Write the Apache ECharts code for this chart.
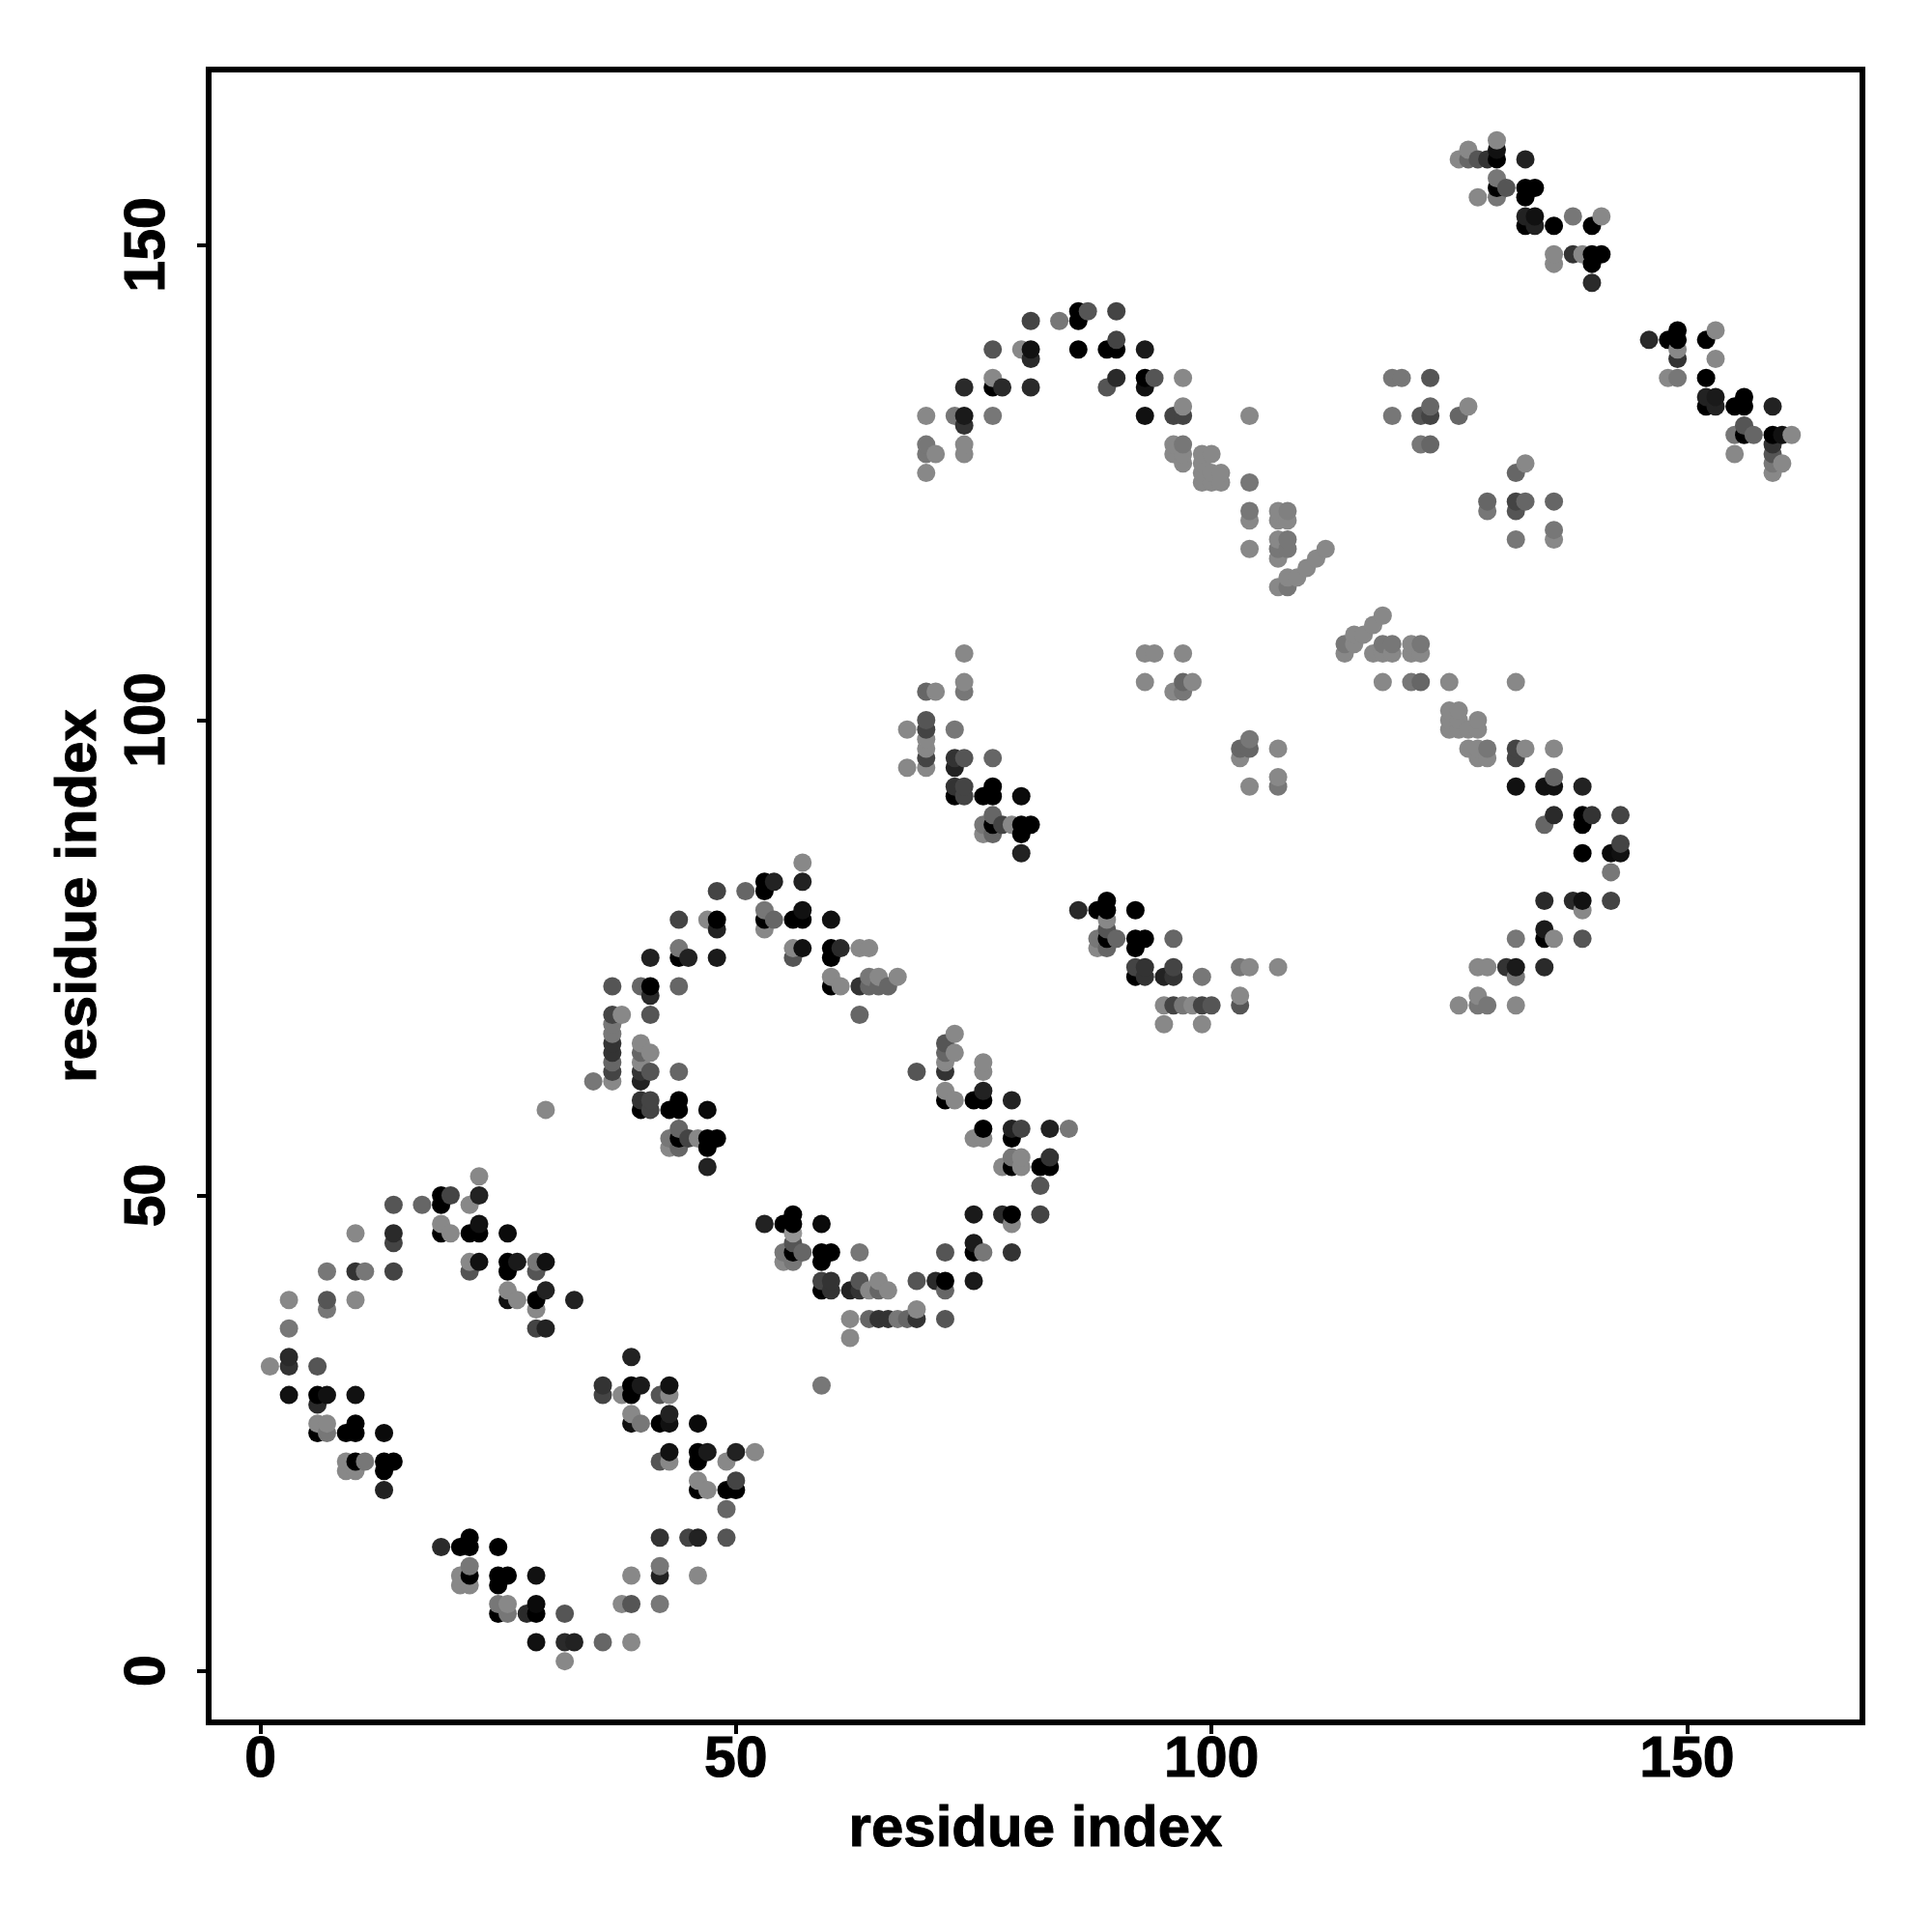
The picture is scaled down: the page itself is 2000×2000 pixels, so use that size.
<!DOCTYPE html>
<html>
<head>
<meta charset="utf-8">
<style>html,body{margin:0;padding:0;background:#fff}#c{width:2000px;height:2000px}</style>
<script src="https://cdn.jsdelivr.net/npm/echarts@6/dist/echarts.min.js"></script>
</head>
<body>
<div id="c"></div>
<script>
const tickValues = [0, 50, 100, 150];
const axisTitle = 'residue index';

// each contact: [residue i, residue j, grey level]
const repeat1Low = [
[1,32,136],[3,39,136],[3,36,119],[3,33,42],[3,32,51],[3,29,17],[6,32,85],[6,29,0],[6,28,42],[6,26,136],[6,25,0],
[7,42,119],[7,39,85],[7,38,119],[7,29,17],[7,26,136],[7,25,119],[9,25,0],[9,22,136],[9,21,136],
[10,46,136],[10,42,51],[10,39,136],[10,29,17],[10,26,0],[10,25,0],[10,22,0],[10,21,136],[11,42,119],[11,22,119],
[13,25,10],[13,22,0],[13,21,0],[13,19,34],[14,49,85],[14,46,42],[14,45,68],[14,42,68],[14,22,0],
[17,49,102],[19,50,0],[19,49,0],[19,47,136],[19,46,0],[19,13,42],[20,50,68],[20,46,136],
[21,13,0],[21,10,136],[21,9,136],[22,49,136],[22,46,0],[22,43,136],[22,42,85],[22,14,0],[22,13,0],[22,11,119],[22,10,0],[22,9,136],
[23,52,136],[23,50,34],[23,47,17],[23,46,0],[23,43,17]
];
const repeat1High = [
[25,13,0],[25,10,0],[25,9,0],[25,7,119],[25,6,0],[26,46,10],[26,43,0],[26,42,0],[26,40,136],[26,39,17],[26,10,0],[26,7,136],[26,6,119],
[27,43,26],[27,39,136],[28,6,42],[29,43,119],[29,42,85],[29,39,0],[29,38,136],[29,36,68],[29,10,17],[29,7,10],[29,6,0],[29,3,17],
[30,59,136],[30,43,17],[30,40,34],[30,36,34],[32,6,85],[32,3,42],[32,1,136],[33,3,34],[33,39,34],
[36,30,51],[36,29,68],[36,3,102],[38,29,136],[38,7,136],[39,33,34],[39,30,0],[39,29,0],[39,27,136],[39,26,17],[39,10,136],[39,7,85],[39,3,136],
[40,30,26],[40,26,119],[42,29,85],[42,26,0],[42,22,85],[42,14,51],[42,11,119],[42,10,34],[42,7,119],
[43,30,17],[43,29,136],[43,27,34],[43,26,17],[43,23,17],[43,22,136],[45,14,68],
[46,26,10],[46,23,0],[46,22,0],[46,20,136],[46,19,0],[46,14,34],[46,10,136],[47,23,26],[47,19,136],
[49,22,136],[49,19,0],[49,17,102],[49,14,85],[50,23,34],[50,20,68],[50,19,0],[52,23,136]
];
const repeat2Low = [
[35,62,119],[37,72,85],[37,69,68],[37,68,119],[37,67,119],[37,66,51],[37,65,51],[37,64,102],[37,63,68],[37,62,136],[38,69,136],
[40,72,102],[40,66,136],[40,65,102],[40,64,136],[40,63,51],[40,62,34],[40,60,51],[40,59,0],
[41,75,34],[41,72,0],[41,71,42],[41,69,85],[41,65,136],[41,63,85],[41,60,68],[41,59,68],
[43,59,0],[43,56,119],[43,55,136],[44,79,68],[44,76,119],[44,75,0],[44,72,102],[44,63,102],[44,60,0],[44,59,0],[44,57,102],[44,56,0],[44,55,102],
[45,75,34],[45,56,68],[46,56,136],[47,79,136],[47,59,10],[47,56,0],[47,55,0],[47,53,34],
[48,82,68],[48,79,0],[48,78,34],[48,75,26],[48,56,0],[51,82,102],
[53,83,0],[53,82,0],[53,80,119],[53,79,0],[53,78,136],[53,47,34],[54,83,34],[54,79,102]
];
const repeat2High = [
[55,47,0],[55,44,119],[55,43,136],[56,79,0],[56,76,136],[56,75,85],[56,48,0],[56,47,0],[56,46,150],[56,45,85],[56,44,0],[56,43,119],
[57,85,136],[57,83,34],[57,80,17],[57,79,0],[57,76,17],[57,44,102],[59,47,10],[59,44,0],[59,43,0],[59,41,68],[59,40,0],[59,30,119],
[60,79,17],[60,76,0],[60,75,0],[60,73,136],[60,72,0],[60,44,0],[60,41,51],[60,40,51],[61,76,42],[61,72,136],
[62,40,34],[62,37,136],[62,35,136],[63,76,136],[63,72,51],[63,69,102],[63,44,119],[63,41,85],[63,40,51],
[64,76,136],[64,73,119],[64,72,102],[64,40,136],[64,37,102],[65,73,136],[65,72,102],[65,41,136],[65,40,102],[65,37,51],
[66,72,102],[66,40,136],[66,37,51],[67,73,136],[67,37,119],[68,37,102],[69,63,85],[69,41,85],[69,38,136],[69,37,51],
[71,41,42],[72,66,85],[72,65,102],[72,64,136],[72,63,51],[72,61,136],[72,60,0],[72,44,85],[72,41,0],[72,40,102],[72,37,85],
[73,67,136],[73,65,136],[73,60,136],[75,60,0],[75,56,136],[75,48,26],[75,45,26],[75,44,0],[75,41,26],
[76,64,136],[76,63,136],[76,61,34],[76,60,0],[76,57,0],[76,56,136],[76,44,119],[78,53,136],[78,48,42],
[79,60,34],[79,57,34],[79,56,0],[79,54,119],[79,53,0],[79,48,0],[79,47,136],[79,44,51],[80,57,68],[80,54,136],[80,53,136],
[82,53,0],[82,51,85],[82,48,68],[83,57,34],[83,54,51],[83,53,0],[85,57,119]
];
const repeat3Low = [
[68,99,136],[68,95,136],[70,132,136],[70,129,119],[70,128,119],[70,126,136],[70,103,102],[70,100,85],[70,99,68],[70,98,136],[70,97,136],[70,96,68],[70,95,136],
[71,128,136],[71,103,136],[73,132,119],[73,99,119],[73,96,51],[73,95,34],[73,93,51],[73,92,0],
[74,135,42],[74,132,26],[74,131,51],[74,129,136],[74,128,136],[74,107,136],[74,104,136],[74,103,119],[74,96,85],[74,93,68],[74,92,68],
[76,92,0],[76,89,119],[76,88,136],[77,139,85],[77,136,136],[77,135,0],[77,132,119],[77,96,102],[77,93,0],[77,92,0],[77,90,102],[77,89,0],[77,88,102],
[78,135,42],[78,89,68],[79,89,136],[80,139,136],[80,92,10],[80,89,0],[80,88,0],[80,86,34],
[81,142,68],[81,139,17],[81,138,42],[81,135,42],[81,89,0],[84,142,119],
[86,143,0],[86,142,0],[86,139,0],[86,80,42],[87,143,85],
[88,80,0],[88,77,119],[88,76,136],[89,139,0],[89,135,85],[89,81,0],[89,80,0],[89,79,136],[89,78,85],[89,77,0],[89,76,102],
[90,143,68],[90,140,68],[90,139,0],[90,136,42],[90,77,102],[92,80,0],[92,77,0],[92,76,0],[92,74,68],[92,73,0],
[93,139,26],[93,136,0],[93,135,17],[93,132,17],[93,107,136],[93,104,136],[93,77,0],[93,74,51],[93,73,51],[94,136,85],[94,107,136],
[95,73,34],[95,70,136],[95,68,136],[96,132,68],[96,129,136],[96,128,136],[96,103,136],[96,77,102],[96,74,68],[96,73,51],[96,70,68],
[97,136,136],[97,133,136],[97,132,68],[97,129,119],[97,128,136],[97,127,136],[97,107,136],[97,104,102],[97,103,119],[97,70,119],[98,104,136],[98,70,136],
[99,128,136],[99,127,136],[99,126,136],[99,125,136],[99,73,119],[99,70,68],[99,68,136],[100,128,136],[100,126,136],[100,125,136],[100,70,85],
[101,126,136],[101,125,136],[103,97,102],[103,96,136],[103,74,119],[103,71,136],[103,70,85],
[104,132,136],[104,125,119],[104,122,119],[104,121,136],[104,118,136],[104,98,119],[104,97,102],[104,93,136],[104,74,136],[107,97,136],[107,94,136],[107,93,119],[107,74,136]
];
const repeat3Inner = [
[107,122,136],[107,121,136],[107,119,136],[107,118,119],[107,117,136],[107,114,136],[108,122,128],[108,121,136],[108,119,119],[108,118,119],[108,115,136],[108,114,119],
[109,115,136],[110,116,136],[111,117,136],[112,118,136],
[114,108,119],[114,107,136],[115,109,136],[115,108,136],[116,109,136],[117,110,136],[117,107,136],[118,111,136],[118,108,119],[118,107,136],[118,104,136],
[119,136,119],[119,132,119],[119,108,119],[119,107,136],[120,136,119],[121,108,136],[121,107,136],[121,104,119],[122,132,85],[122,129,119],[122,108,119],[122,107,136],[122,104,102],
[123,136,85],[123,133,102],[123,132,68],[123,129,102],[125,104,136],[125,101,136],[125,100,136],[125,99,136],[126,132,102],[126,101,136],[126,100,136],[126,99,136],[126,70,136],
[127,133,136],[127,99,136],[127,97,136],[128,100,136],[128,99,136],[128,97,136],[128,96,136],[128,74,136],[128,71,136],[128,70,119],
[129,123,102],[129,122,119],[129,97,119],[129,96,136],[129,74,136],[129,70,119]
];
const repeat4 = [
[126,159,136],[127,160,136],[127,159,102],[128,159,85],[128,155,136],[129,159,51],[130,161,136],[130,160,17],[130,159,0],[130,157,119],[130,156,0],[130,155,119],[131,156,85],
[131,74,51],[132,126,102],[132,123,68],[132,122,85],[132,119,119],[132,104,136],[132,97,68],[132,96,68],[132,93,17],[132,77,119],[132,74,26],[132,73,119],[132,70,136],
[133,159,34],[133,156,0],[133,155,0],[133,153,34],[133,152,0],[133,127,136],[133,123,102],[133,97,136],
[134,156,0],[134,153,17],[134,152,34],[135,93,17],[135,89,102],[135,81,42],[135,78,26],[135,77,0],[135,74,42],
[136,152,0],[136,149,136],[136,148,136],[136,123,102],[136,120,119],[136,119,136],[136,97,136],[136,94,102],[136,93,17],[136,90,42],[136,77,136],
[138,153,119],[138,149,51],[138,81,42],[139,149,136],[139,93,34],[139,90,0],[139,89,0],[139,86,0],[139,81,17],[139,80,136],[139,77,85],
[140,152,0],[140,149,0],[140,148,0],[140,146,42],[140,90,51],[141,153,136],[141,149,0],
[142,86,10],[142,84,119],[142,81,68],[143,90,68],[143,87,68],[143,86,17],
[146,140,42],[148,140,0],[148,136,136],[149,141,0],[149,140,0],[149,139,136],[149,138,51],[149,136,119],
[152,140,0],[152,136,0],[152,134,34],[152,133,0],[153,141,136],[153,138,136],[153,134,26],[153,133,34],
[155,133,0],[155,130,119],[155,128,136],[156,134,0],[156,133,0],[156,131,85],[156,130,0],[157,130,102],
[159,133,34],[159,130,0],[159,129,51],[159,128,85],[159,127,119],[159,126,136],[160,130,17],[160,127,136],[161,130,136]
];

const contacts = [].concat(repeat1Low, repeat1High, repeat2Low, repeat2High, repeat3Low, repeat3Inner, repeat4)
  .sort((a, b) => a[0] - b[0] || a[1] - b[1]);

const font = '"Liberation Sans", Arial, sans-serif';
const heavy = { fontFamily: font, fontWeight: 'bold', color: '#000', textBorderColor: '#000', textBorderWidth: 1 };
function axisCfg(extra) {
  return Object.assign({
    type: 'value', min: -5.44, max: 168.44, name: axisTitle, nameLocation: 'middle',
    nameTextStyle: Object.assign({ fontSize: 60 }, heavy),
    splitLine: { show: false },
    axisLine: { show: false, onZero: false },
    axisTick: { show: true, length: 12, inside: false, customValues: tickValues, lineStyle: { color: '#000', width: 4 } }
  }, extra);
}
const chart = echarts.init(document.getElementById('c'), null, { renderer: 'canvas' });
chart.setOption({
  animation: false,
  backgroundColor: '#fff',
  grid: { left: 216, right: 72, top: 72, bottom: 217, show: true, borderColor: '#000', borderWidth: 6, backgroundColor: 'transparent', containLabel: false },
  xAxis: axisCfg({
    nameGap: 81,
    axisLabel: Object.assign({ show: true, customValues: tickValues, margin: 10, fontSize: 59 }, heavy)
  }),
  yAxis: axisCfg({
    nameGap: 104,
    axisLabel: Object.assign({ show: true, customValues: tickValues, rotate: 90, margin: 62, fontSize: 59, verticalAlign: 'middle', align: 'center' }, heavy)
  }),
  series: [{
    type: 'scatter',
    symbol: 'circle',
    symbolSize: 19,
    large: false,
    data: contacts.map(c => ({ value: [c[0], c[1]], itemStyle: { color: `rgb(${c[2]},${c[2]},${c[2]})`, opacity: 1 } }))
  }]
});
</script>
</body>
</html>
